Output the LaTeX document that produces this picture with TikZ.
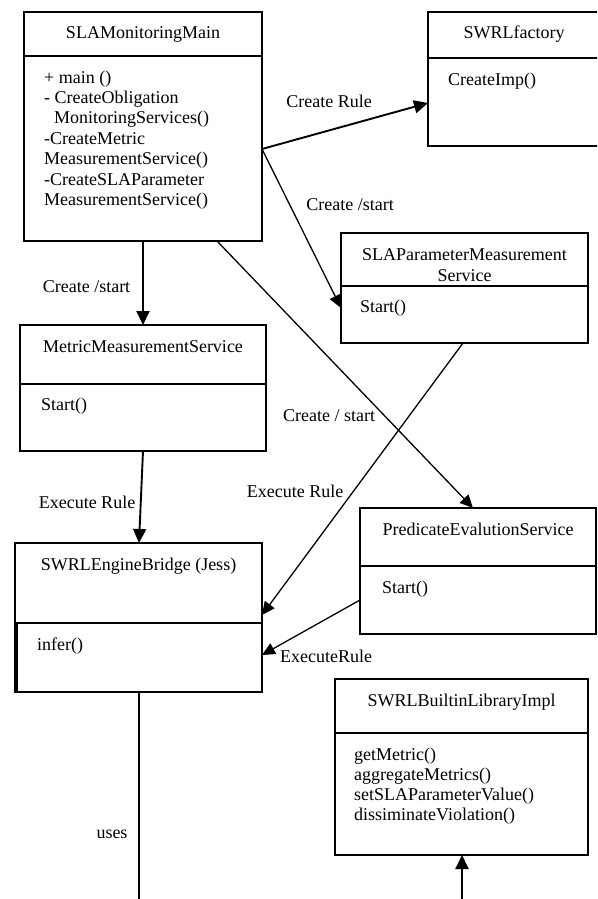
\documentclass[tikz,border=0pt]{standalone}
\usepackage{fontspec}
\setmainfont{Liberation Serif}
\usetikzlibrary{arrows.meta}
\begin{document}
\begin{tikzpicture}[x=1pt,y=-1pt,
  clsbox/.style={draw, line width=1.8pt, inner sep=0pt, outer sep=0pt, anchor=north west},
  divline/.style={line width=1.8pt},
  lbl/.style={font=\fontsize{18}{20.4}\selectfont, inner sep=0pt},
  clstitle/.style={lbl, anchor=base, align=center},
  clsbody/.style={lbl, anchor=base west, align=left},
  link/.style={line width=1.3pt, -{Triangle[length=13pt,width=12pt]}},
  linkheavy/.style={line width=1.9pt, -{Triangle[length=14pt,width=13pt]}},
  plainlink/.style={line width=1.5pt}
]
\useasboundingbox (0,0) rectangle (597,899);
\clip (0,0) rectangle (597,899);

% ---- classes (multi-line texts are anchored on their last baseline) ----
\node[clsbox, minimum width=238pt, minimum height=229pt] (main) at (24,12) {};
\draw[divline] (main.west |- 0,56) -- (main.east |- 0,56);
\node[clstitle] (mainT) at (143,39) {SLAMonitoringMain};
\node[clsbody] (mainB) at (44,205.4) {+ main ()\\- CreateObligation\\\hspace*{10pt}MonitoringServices()\\-CreateMetric\\MeasurementService()\\-CreateSLAParameter\\MeasurementService()};

\node[clsbox, minimum width=172pt, minimum height=134pt] (fact) at (428,12) {};
\draw[divline] (fact.west |- 0,58) -- (fact.east |- 0,58);
\node[clstitle] (factT) at (514,39) {SWRLfactory};
\node[clsbody] (factB) at (448,85) {CreateImp()};

\node[clsbox, minimum width=247pt, minimum height=110pt] (slap) at (341,233) {};
\draw[divline] (slap.west |- 0,286) -- (slap.east |- 0,286);
\node[clstitle, font=\fontsize{18}{21}\selectfont] (slapT) at (464.5,281) {SLAParameterMeasurement\\Service};
\node[clsbody] (slapB) at (360,312) {Start()};

\node[clsbox, minimum width=246pt, minimum height=126pt] (metric) at (20,325) {};
\draw[divline] (metric.west |- 0,384) -- (metric.east |- 0,384);
\node[clstitle] (metricT) at (143,352) {MetricMeasurementService};
\node[clsbody] (metricB) at (41,410) {Start()};

\node[clsbox, minimum width=247pt, minimum height=149pt] (engine) at (15,543) {};
\draw[divline] (engine.west |- 0,623) -- (engine.east |- 0,623);
\draw[divline] (17,623) -- (17,692);
\node[clstitle] (engineT) at (138.5,570) {SWRLEngineBridge (Jess)};
\node[clsbody] (engineB) at (37,650) {infer()};

\node[clsbox, minimum width=236pt, minimum height=126pt] (pred) at (360,508) {};
\draw[divline] (pred.west |- 0,566) -- (pred.east |- 0,566);
\node[clstitle] (predT) at (478,535) {PredicateEvalutionService};
\node[clsbody] (predB) at (382,593) {Start()};

\node[clsbox, minimum width=253pt, minimum height=176pt] (lib) at (335,679) {};
\draw[divline] (lib.west |- 0,733) -- (lib.east |- 0,733);
\node[clstitle] (libT) at (461.5,706) {SWRLBuiltinLibraryImpl};
\node[clsbody, font=\fontsize{18}{20}\selectfont] (libB) at (354,820) {getMetric()\\aggregateMetrics()\\setSLAParameterValue()\\dissiminateViolation()};

% ---- free ends below the page edge ----
\coordinate (usesEnd) at (139,905);
\coordinate (libEnd) at (462,905);

% ---- connectors ----
\draw[linkheavy] (main.east |- 0,149) -- (fact.west |- 0,103);
\draw[link] (main.east |- 0,149) -- (slap.west |- 0,308);
\draw[linkheavy] (main.south -| 143,0) -- (metric.north -| 143,0);
\draw[link] (main.south -| 217,0) -- (pred.north -| 473,0);
\draw[linkheavy] (metric.south -| 143,0) -- (engine.north -| 139,0);
\draw[link] (slap.south -| 463,0) -- (engine.east |- 0,615);
\draw[link] (pred.west |- 0,600) -- (engine.east |- 0,655);
\draw[plainlink] (engine.south -| 139,0) -- (usesEnd);
\draw[linkheavy] (libEnd) -- (lib.south -| 462,0);

% ---- connector labels ----
\node[lbl, anchor=base] (lblRule) at (329,107) {Create Rule};
\node[lbl, anchor=base] (lblSlap) at (350,210) {Create /start};
\node[lbl, anchor=base] (lblMetric) at (86.5,292) {Create /start};
\node[lbl, anchor=base] (lblPred) at (329,421) {Create / start};
\node[lbl, anchor=base] (lblExecA) at (87,508) {Execute Rule};
\node[lbl, anchor=base] (lblExecB) at (295,497) {Execute Rule};
\node[lbl, anchor=base west] (lblExecC) at (280,662) {ExecuteRule};
\node[lbl, anchor=base] (lblUses) at (112,838) {uses};
\end{tikzpicture}
\end{document}
